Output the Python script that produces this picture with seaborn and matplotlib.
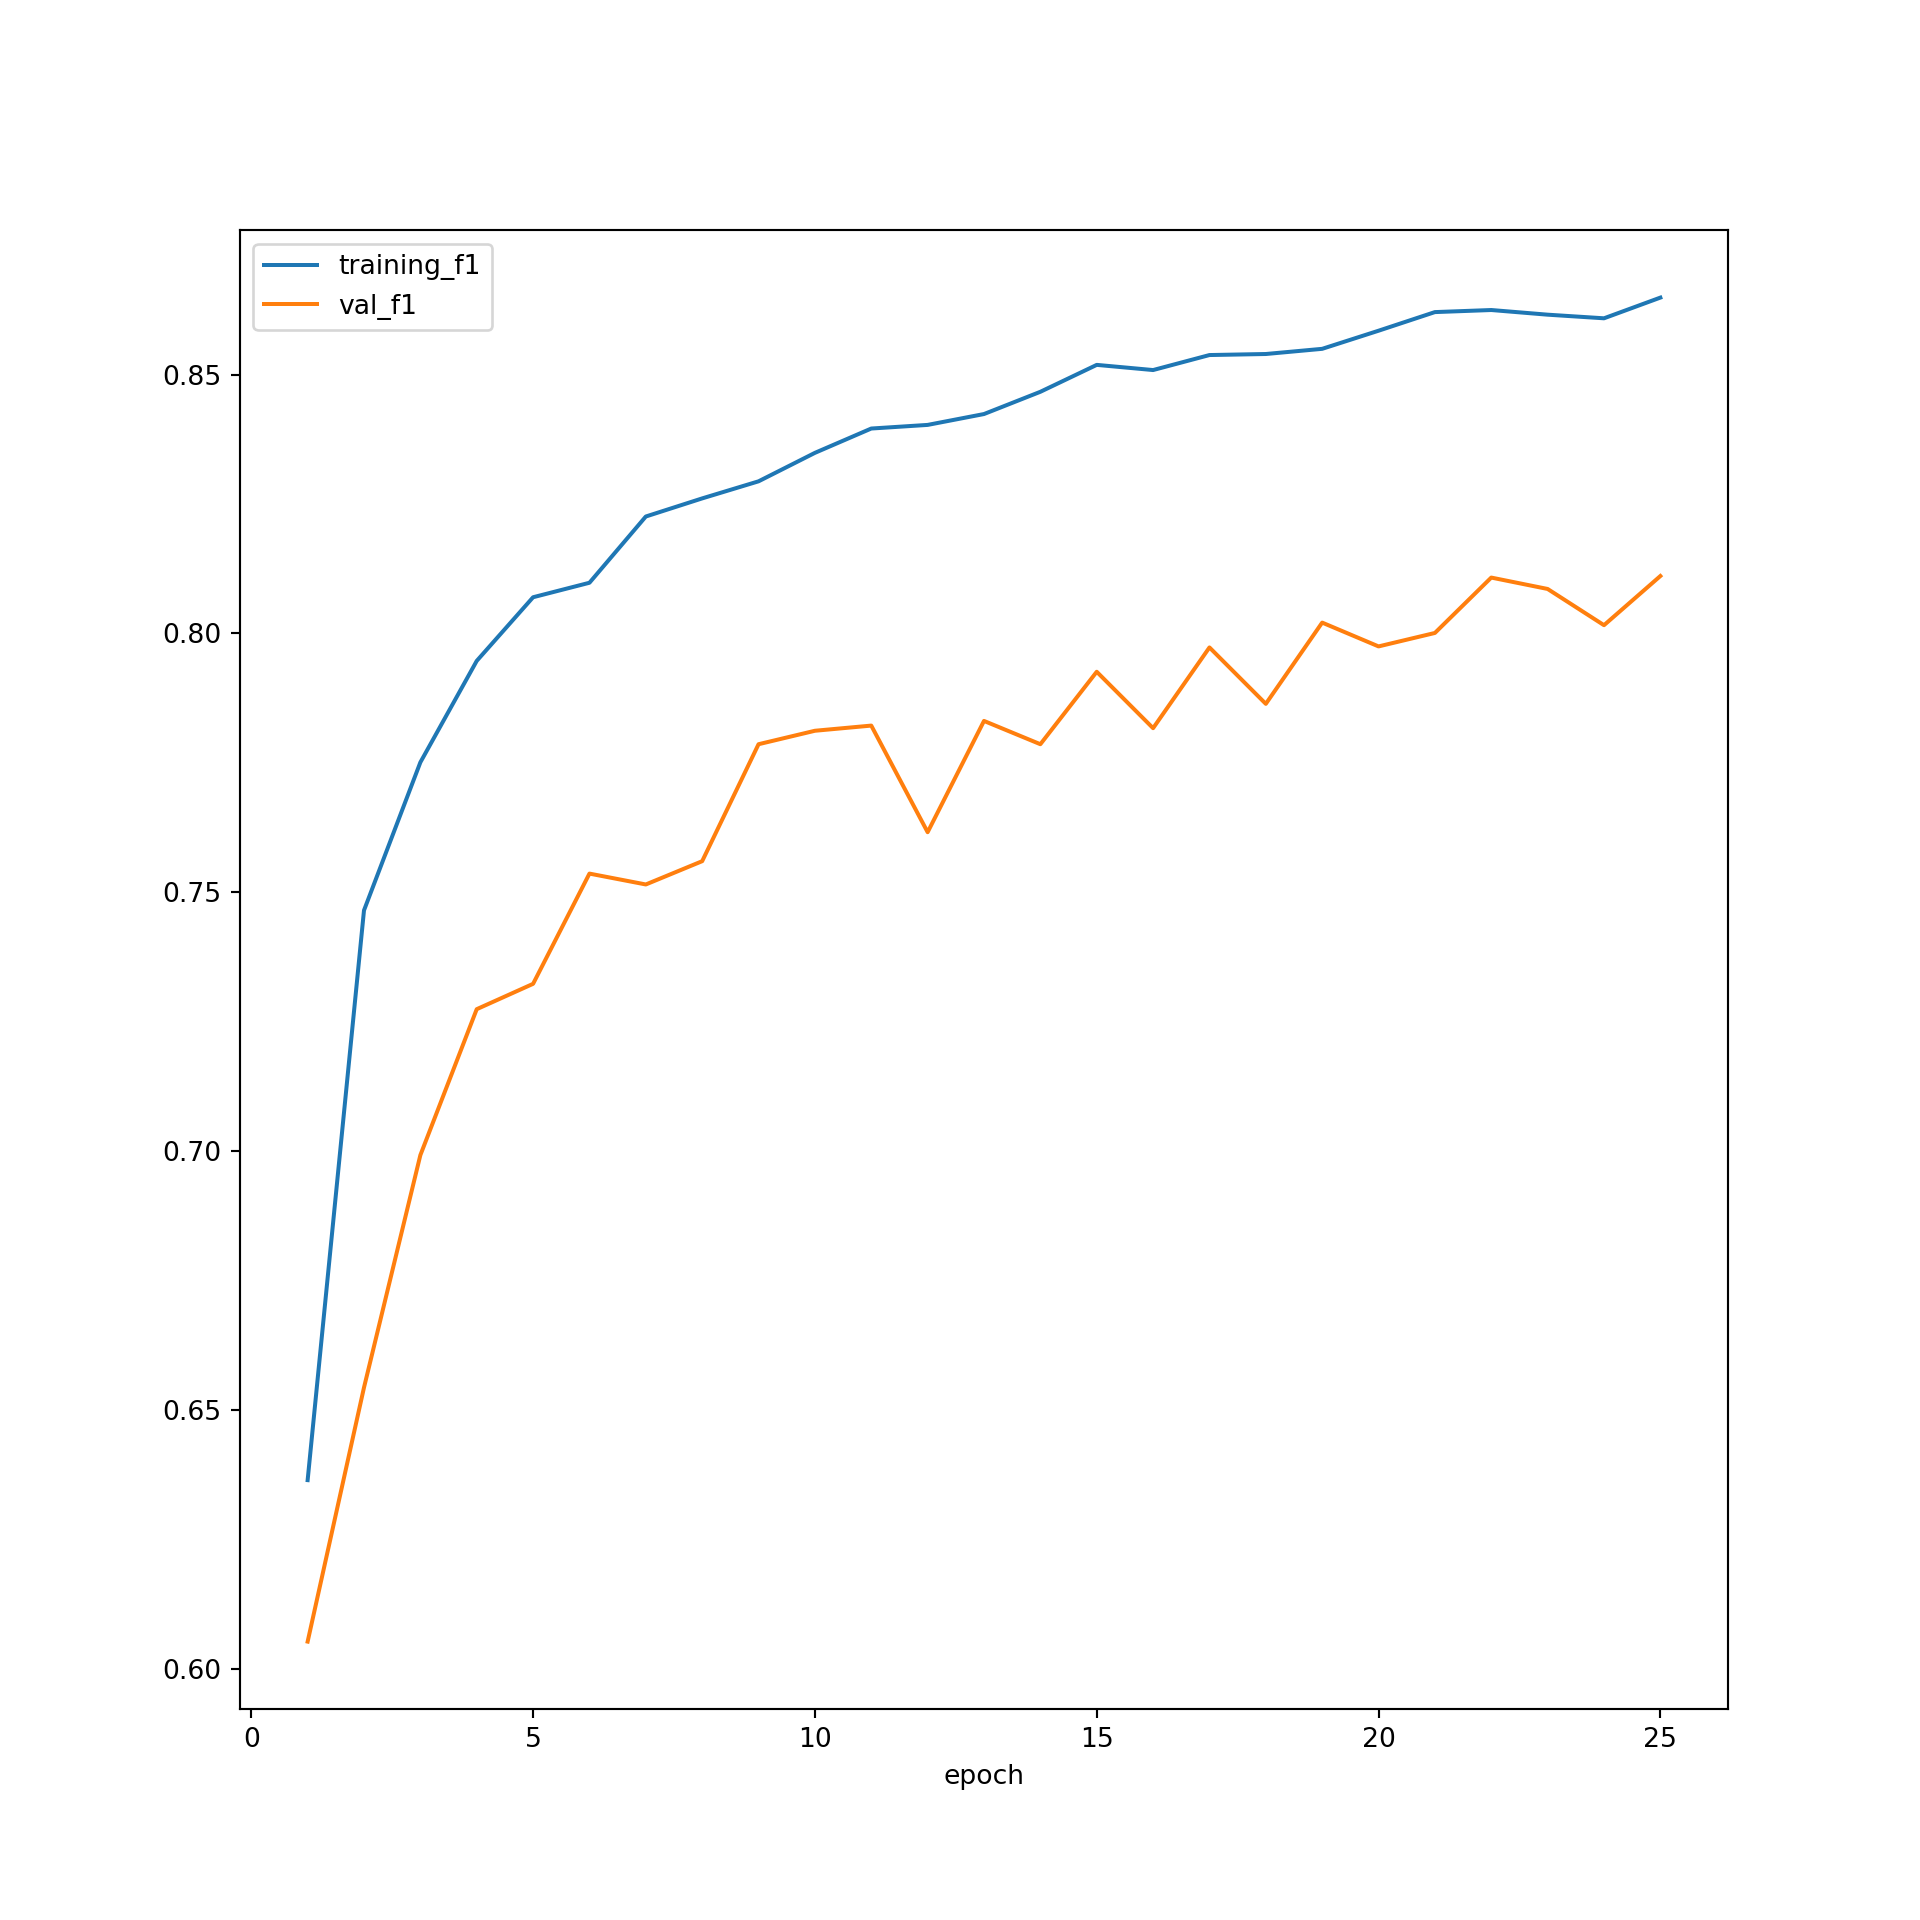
# training curves: f1 per epoch

import matplotlib
matplotlib.use("Agg")
import matplotlib.pyplot as plt
import pandas as pd
import seaborn as sns

epochs = list(range(1, 26))
training_f1 = [0.6364, 0.7465, 0.7751, 0.7947, 0.8070, 0.8098, 0.8226, 0.8261,
               0.8294, 0.8349, 0.8396, 0.8403, 0.8424, 0.8467, 0.8519, 0.8509,
               0.8538, 0.8540, 0.8550, 0.8585, 0.8621, 0.8625, 0.8616, 0.8609,
               0.8649]
val_f1 = [0.6052, 0.6543, 0.6992, 0.7274, 0.7323, 0.7536, 0.7515, 0.7560,
          0.7786, 0.7812, 0.7822, 0.7616, 0.7831, 0.7786, 0.7926, 0.7817,
          0.7973, 0.7864, 0.8021, 0.7975, 0.8001, 0.8108, 0.8086, 0.8016,
          0.8111]

df = pd.DataFrame({"epoch": epochs, "training_f1": training_f1, "val_f1": val_f1})

fig, ax = plt.subplots(figsize=(10, 10))
sns.lineplot(data=df, x="epoch", y="training_f1", label="training_f1", ax=ax)
sns.lineplot(data=df, x="epoch", y="val_f1", label="val_f1", ax=ax)
ax.set_xlabel("epoch")
ax.set_ylabel("")
ax.legend(loc="upper left")

fig.savefig("out.png", dpi=192)
